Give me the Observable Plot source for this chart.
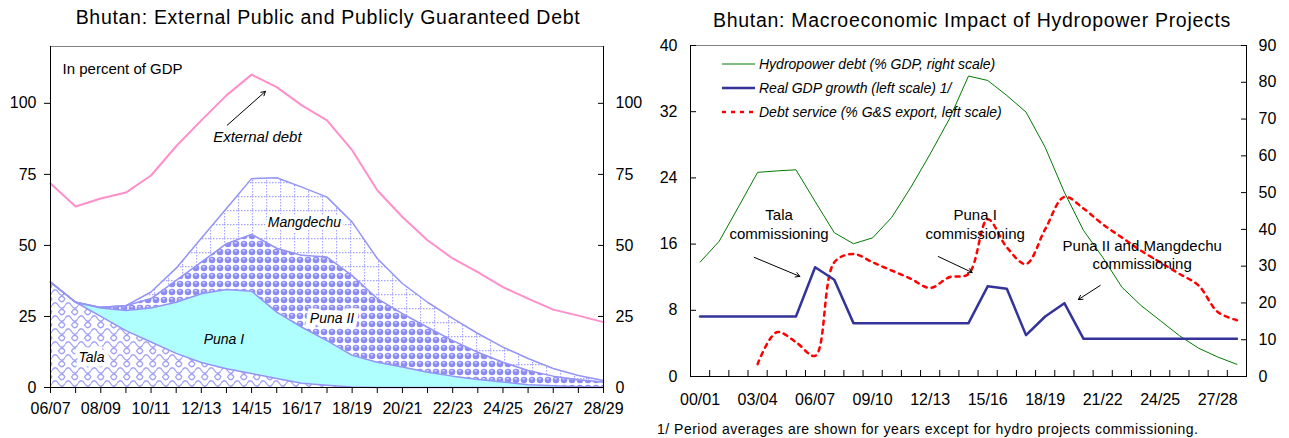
<!DOCTYPE html>
<html>
<head>
<meta charset="utf-8">
<script src="https://cdn.jsdelivr.net/npm/d3@7"></script>
<script src="https://cdn.jsdelivr.net/npm/@observablehq/plot@0.6"></script>
<style>
  body { margin: 0; background: #fff; font-family: "Liberation Sans", Arial, sans-serif; }
  #wrap { position: relative; width: 1289px; height: 438px; overflow: hidden; background: #fff; }
  .panel { position: absolute; top: 0; }
  .title { position: absolute; top: 6px; font-size: 19.5px; letter-spacing: 0.7px; white-space: nowrap; transform: translateX(-50%); color: #000; }
  .note { position: absolute; font-size: 14px; letter-spacing: 0.5px; white-space: nowrap; color: #000; }
  .legend { position: absolute; left: 722px; top: 52px; font-size: 14px; font-style: italic; }
  .legend div { height: 24px; display: flex; align-items: center; white-space: nowrap; }
  .legend svg { margin-right: 4px; }
</style>
</head>
<body>
<div id="wrap">
  <div class="title" style="left:328px">Bhutan: External Public and Publicly Guaranteed Debt</div>
  <div class="title" style="left:972px;top:9px">Bhutan: Macroeconomic Impact of Hydropower Projects</div>
  <div id="left" class="panel" style="left:0px"></div>
  <div id="right" class="panel" style="left:645px"></div>
  <div class="legend" id="legend"></div>
  <div class="note" style="left:657px;top:421px">1/ Period averages are shown for years except for hydro projects commissioning.</div>
</div>
<script>
// ---- External PPG debt, percent of GDP (fiscal years 06/07 – 28/29) ----
const yearsDebt = ["06/07","07/08","08/09","09/10","10/11","11/12","12/13","13/14","14/15","15/16","16/17","17/18",
                   "18/19","19/20","20/21","21/22","22/23","23/24","24/25","25/26","26/27","27/28","28/29"];
const tala      = [37.1,30,25,20,16,12,8.8,6.6,4.9,3.2,1.5,0.8,0.2,0,0,0,0,0,0,0,0,0,0];
const punaI     = [0,0,3,7.1,12,18,24.2,27.9,29,23.3,19.7,15.7,11.1,8.9,7.2,5.4,4.0,2.8,1.9,1.0,0.6,0.3,0.1];
const punaII    = [0,0,0.2,1.7,3.3,7.7,11.1,16.1,20,22.5,25.3,29.4,28.1,22.4,18.8,15.8,12.5,9.6,7,5,3.4,2.4,1.8];
const mangdechu = [0,0,0,0,2.3,4.3,8.4,12.4,19.6,24.8,24,21.1,18.8,14.1,10.6,8.8,7.8,6.6,5.3,4.2,2.7,1.5,0.6];
const externalDebt = [71.8,63.7,66.5,68.6,74.6,84.9,94,102.8,110.1,105.7,99.3,94,83.5,69.4,60,51.8,45.4,40.6,35.3,31.3,27.4,25.3,23];
const debtTicks = [0,25,50,75,100];

// ---- Macroeconomic impact (fiscal years 00/01 – 28/29) ----
const yearsMacro = ["00/01","01/02","02/03","03/04","04/05","05/06","06/07","07/08","08/09","09/10","10/11","11/12",
                    "12/13","13/14","14/15","15/16","16/17","17/18","18/19","19/20","20/21","21/22","22/23","23/24",
                    "24/25","25/26","26/27","27/28","28/29"];
const hydroDebt   = [31.1,36.8,46.1,55.5,55.9,56.2,47.6,39.1,36.1,37.7,43.3,51.5,60.5,70,81.7,80.5,76.4,71.9,62.3,50.1,
                     39.7,32.4,24.3,19.3,15.2,11.1,7.7,5.3,3.3];
const gdpGrowth   = [7.25,7.25,7.25,7.25,7.25,7.25,13.2,11.7,6.45,6.45,6.45,6.45,6.45,6.45,6.45,10.9,10.6,5.0,7.25,8.86,
                     4.55,4.55,4.55,4.55,4.55,4.55,4.55,4.55,4.55];
const debtService = [null,null,null,1.5,5.35,4.15,2.5,13.8,14.8,13.8,12.8,11.8,10.7,12.0,12.4,19.0,15.6,13.6,17.8,21.7,
                     20.3,18.4,16.8,15.2,13.8,12.4,11.0,7.8,6.8];
const leftTicks  = [0,8,16,24,32,40];
const rightTicks = [0,10,20,30,40,50,60,70,80,90];

const FONT = '"Liberation Sans", Arial, sans-serif';
const LAV = "#9494f6";

// cumulative layer boundaries for the stacked hydro project debt
const rowsDebt = yearsDebt.map((label, i) => {
  const c1 = tala[i], c2 = c1 + punaI[i], c3 = c2 + punaII[i], c4 = c3 + mangdechu[i];
  return {i, label, c1, c2, c3, c4, ext: externalDebt[i]};
});

// italic layer label sitting on a white patch
const layerLabel = (txt, x, y, halo) => Plot.text([txt], {
  x, y, fontSize: 14, fontStyle: "italic", fill: "#000",
  stroke: halo ? "#fff" : undefined, strokeWidth: halo, strokeLinejoin: "miter", paintOrder: "stroke"
});

const left = Plot.plot({
  width: 645, height: 438,
  marginTop: 46, marginBottom: 51, marginLeft: 50, marginRight: 42,
  x: {type: "linear", domain: [0, yearsDebt.length - 1]},
  y: {domain: [0, 120]},
  style: {fontFamily: FONT, fontSize: "16px", color: "#000", background: "transparent", overflow: "visible"},
  marks: [
    Plot.frame({stroke: "#808080"}),
    Plot.areaY(rowsDebt, {x: "i", y1: 0, y2: "c1", fill: "url(#pTala)"}),
    Plot.areaY(rowsDebt, {x: "i", y1: "c1", y2: "c2", fill: "#b0ffff"}),
    Plot.areaY(rowsDebt, {x: "i", y1: "c2", y2: "c3", fill: "url(#pBubble)"}),
    Plot.areaY(rowsDebt, {x: "i", y1: "c3", y2: "c4", fill: "url(#pGrid)"}),
    Plot.lineY(rowsDebt, {x: "i", y: "c1", stroke: LAV, strokeWidth: 1.5}),
    Plot.lineY(rowsDebt, {x: "i", y: "c2", stroke: LAV, strokeWidth: 1.5}),
    Plot.lineY(rowsDebt, {x: "i", y: "c3", stroke: LAV, strokeWidth: 1.5}),
    Plot.lineY(rowsDebt, {x: "i", y: "c4", stroke: LAV, strokeWidth: 1.5}),
    Plot.lineY(rowsDebt, {x: "i", y: "ext", stroke: "#ff8fca", strokeWidth: 2}),
    Plot.ruleX([0, yearsDebt.length - 1], {stroke: "#000"}),
    Plot.ruleY([0], {stroke: "#000"}),
    Plot.axisY({ticks: debtTicks, anchor: "left", tickSize: 6, tickPadding: 8, label: null}),
    Plot.axisY({ticks: debtTicks, anchor: "right", tickSize: -6, tickPadding: 18, label: null}),
    Plot.axisX({ticks: d3.range(yearsDebt.length), tickFormat: i => i % 2 === 0 ? yearsDebt[i] : "",
                tickSize: 6, tickPadding: 9, label: null}),
    Plot.text(["In percent of GDP"], {x: 0.48, y: 112, textAnchor: "start", fontSize: 15}),
    Plot.text(["External debt"], {x: 8.23, y: 88, fontSize: 15, fontStyle: "italic"}),
    Plot.arrow([0], {x1: 7.03, y1: 92.3, x2: 8.55, y2: 104.2, stroke: "#000", strokeWidth: 1, headLength: 7}),
    layerLabel("Mangdechu", 10.1, 58.1, 6),
    layerLabel("Puna II", 11.2, 24.4, 9),
    layerLabel("Puna I", 6.9, 17, 0),
    layerLabel("Tala", 1.63, 10.7, 9)
  ]
});

// fill patterns for the project layers
const defs = `
<defs>
  <pattern id="pTala" patternUnits="userSpaceOnUse" width="13" height="13">
    <rect width="13" height="13" fill="#fff"/>
    <path d="M0,6.5 Q3.25,1 6.5,6.5 Q9.75,12 13,6.5 M-6.5,13 Q-3.25,7.5 0,13 M6.5,0 Q9.75,5.5 13,0 M0,0 Q3.25,-5.5 6.5,0 M6.5,13 Q9.75,7.5 13,13 M0,13 Q3.25,18.5 6.5,13"
          fill="none" stroke="#a2a2f6" stroke-width="1.3"/>
  </pattern>
  <pattern id="pBubble" patternUnits="userSpaceOnUse" width="8" height="8">
    <rect width="8" height="8" fill="#fff"/>
    <circle cx="4" cy="4" r="3.3" fill="#8c8cf2"/>
    <ellipse cx="3.6" cy="2.8" rx="1.5" ry="0.8" fill="#dcdcff"/>
  </pattern>
  <pattern id="pGrid" patternUnits="userSpaceOnUse" width="14" height="14">
    <rect width="14" height="14" fill="#fff"/>
    <path d="M0.5,0 V14 M0,0.5 H14" stroke="#a4a4ff" stroke-width="1.3" stroke-dasharray="1.5,1.5"/>
  </pattern>
</defs>`;
left.insertAdjacentHTML("afterbegin", defs);
document.getElementById("left").append(left);

const rowsMacro = yearsMacro.map((label, i) => ({
  i, label, hydro: hydroDebt[i], gdp: gdpGrowth[i], ds: debtService[i]
}));
// the hydropower debt series is read against the right-hand 0–90 axis
const toLeft = v => v * 40 / 90;

const right = Plot.plot({
  width: 644, height: 438,
  marginTop: 45, marginBottom: 62, marginLeft: 45, marginRight: 43,
  x: {type: "linear", domain: [-0.5, yearsMacro.length - 0.5]},
  y: {domain: [0, 40]},
  style: {fontFamily: FONT, fontSize: "16px", color: "#000", background: "transparent", overflow: "visible"},
  marks: [
    Plot.frame({stroke: "#808080"}),
    Plot.lineY(rowsMacro, {x: "i", y: d => toLeft(d.hydro), stroke: "#007a00", strokeWidth: 1}),
    Plot.lineY(rowsMacro, {x: "i", y: "ds", stroke: "#ff0000", strokeWidth: 2.5, strokeDasharray: "4,5", curve: "catmull-rom"}),
    Plot.lineY(rowsMacro, {x: "i", y: "gdp", stroke: "#333399", strokeWidth: 2.5}),
    Plot.ruleX([-0.5, yearsMacro.length - 0.5], {stroke: "#000"}),
    Plot.ruleY([0], {stroke: "#000"}),
    Plot.axisY({ticks: leftTicks, anchor: "left", tickSize: -6, tickPadding: 19, label: null}),
    Plot.axisY({ticks: rightTicks.map(toLeft), tickFormat: d => Math.round(d * 90 / 40), anchor: "right",
                tickSize: -6, tickPadding: 18, label: null}),
    Plot.axisX({ticks: d3.range(0.5, yearsMacro.length - 1, 1), tickFormat: () => "", tickSize: -6, label: null}),
    Plot.axisX({ticks: d3.range(0, yearsMacro.length, 3), tickFormat: i => yearsMacro[i], tickSize: 0,
                tickPadding: 17, label: null}),
    Plot.text(["Tala\ncommissioning"], {x: 4.12, y: 18.5, fontSize: 15, lineHeight: 1.3}),
    Plot.arrow([0], {x1: 2.82, y1: 14.4, x2: 5.2, y2: 12.1, stroke: "#000", strokeWidth: 1, headLength: 7}),
    Plot.text(["Puna I\ncommissioning"], {x: 14.35, y: 18.5, fontSize: 15, lineHeight: 1.3}),
    Plot.arrow([0], {x1: 12.42, y1: 14.5, x2: 14.19, y2: 12.57, stroke: "#000", strokeWidth: 1, headLength: 7}),
    Plot.text(["Puna II and Mangdechu\ncommissioning"], {x: 23.06, y: 14.74, fontSize: 15, lineHeight: 1.2}),
    Plot.arrow([0], {x1: 20.87, y1: 11.0, x2: 19.73, y2: 9.3, stroke: "#000", strokeWidth: 1, headLength: 7})
  ]
});
document.getElementById("right").append(right);

// legend for the right-hand chart
const legendItems = [
  {label: "Hydropower debt (% GDP, right scale)", stroke: "#007a00", width: 1, dash: null},
  {label: "Real GDP growth (left scale) 1/", stroke: "#333399", width: 2.5, dash: null},
  {label: "Debt service (% G&S export, left scale)", stroke: "#ff0000", width: 2.5, dash: "4,5"}
];
const legend = document.getElementById("legend");
for (const item of legendItems) {
  const row = document.createElement("div");
  row.innerHTML = `<svg width="33" height="6"><line x1="0" x2="33" y1="3" y2="3" stroke="${item.stroke}"
    stroke-width="${item.width}" ${item.dash ? `stroke-dasharray="${item.dash}"` : ""}/></svg><span></span>`;
  row.querySelector("span").textContent = item.label;
  legend.append(row);
}
</script>
</body>
</html>
